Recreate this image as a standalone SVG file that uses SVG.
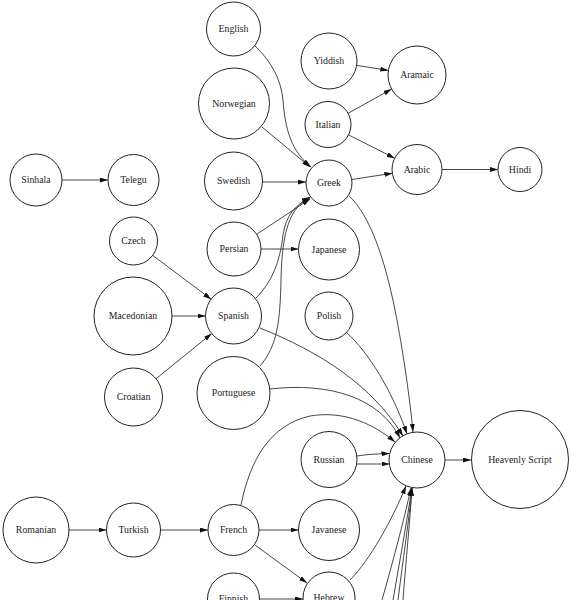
<svg xmlns="http://www.w3.org/2000/svg" width="571" height="600" viewBox="0 0 571 600">
<style>
.n ellipse{fill:none;stroke:#222;stroke-width:1}
.n text{font-family:"Liberation Serif","Times New Roman",serif;font-size:9.8px;fill:#222;text-anchor:middle}
.e path{fill:none;stroke:#333;stroke-width:0.9;marker-end:url(#ah)}
</style>
<defs>
<marker id="ah" viewBox="0 0 8 5" refX="8" refY="2.5" markerWidth="8" markerHeight="5" orient="auto" markerUnits="userSpaceOnUse"><path d="M0,0 L8,2.5 L0,5 z" fill="#111"/></marker>
</defs>
<rect width="571" height="600" fill="#fff"/>
<g id="edges" class="e">
<path d="M62,180 L108,180"/>
<path d="M255,46 C272,62 281,80 283,100 C285,130 292,152 311,167"/>
<path d="M262,127 L310,167"/>
<path d="M262.5,182 L306,182"/>
<path d="M257,234 L310,199"/>
<path d="M256,298 C272,282 280,262 283,235 C286,215 295,205 310,198"/>
<path d="M260,366 C278,345 280,320 281,280 C282,230 290,208 310,197"/>
<path d="M261,249 L298.5,249"/>
<path d="M152.7,255.4 L211.1,299.2"/>
<path d="M172,316 L205.5,316"/>
<path d="M156,378.8 L211.7,333.6"/>
<path d="M356.7,65.4 L388.3,70.4"/>
<path d="M348.1,113.3 L391.6,89.1"/>
<path d="M348.5,134.9 L394.7,158.2"/>
<path d="M351.7,179.5 L392.3,173.3"/>
<path d="M442,169.5 L498,169.5"/>
<path d="M349,196 C370,215 385,260 395,310 C403,350 410,400 413,432"/>
<path d="M347,333 C368,352 392,390 407,434"/>
<path d="M260,328 C320,352 372,385 403,436"/>
<path d="M270,389 C330,382 380,398 400,438"/>
<path d="M241,505 C250,460 270,425 310,416 C345,410 375,425 395,442"/>
<path d="M357,456 C370,454 378,454 389.5,453.5"/>
<path d="M357,464 L389.5,464"/>
<path d="M445,460 L471,460"/>
<path d="M69,530 L106.5,530"/>
<path d="M160.5,530 L208,530"/>
<path d="M259,530 L298.5,530"/>
<path d="M255,545 L307,583"/>
<path d="M259.5,599 L303,599"/>
<path d="M350,580 C370,560 392,520 406,486"/>
<path d="M382,600 C392,565 404,520 411,488"/>
<path d="M393,600 C400,560 407,520 412,488"/>
<path d="M398,600 C403,560 409,520 412,488"/>
<path d="M403,600 C406,560 410,520 412,488"/>
</g>
<g id="English" class="n"><ellipse cx="233.5" cy="29" rx="27" ry="27"/><text x="233.5" y="32.3">English</text></g>
<g id="Yiddish" class="n"><ellipse cx="329" cy="61" rx="28" ry="28"/><text x="329" y="64.3">Yiddish</text></g>
<g id="Aramaic" class="n"><ellipse cx="417" cy="75" rx="29" ry="29"/><text x="417" y="78.3">Aramaic</text></g>
<g id="Norwegian" class="n"><ellipse cx="234" cy="103.5" rx="35.5" ry="35.5"/><text x="234" y="106.8">Norwegian</text></g>
<g id="Italian" class="n"><ellipse cx="328" cy="124.5" rx="23" ry="23"/><text x="328" y="127.8">Italian</text></g>
<g id="Arabic" class="n"><ellipse cx="417" cy="169.5" rx="25" ry="25"/><text x="417" y="172.8">Arabic</text></g>
<g id="Hindi" class="n"><ellipse cx="520" cy="169.5" rx="22" ry="22"/><text x="520" y="172.8">Hindi</text></g>
<g id="Sinhala" class="n"><ellipse cx="36" cy="180" rx="26" ry="26"/><text x="36" y="183.3">Sinhala</text></g>
<g id="Telegu" class="n"><ellipse cx="133.5" cy="180" rx="25.5" ry="25.5"/><text x="133.5" y="183.3">Telegu</text></g>
<g id="Swedish" class="n"><ellipse cx="233.5" cy="181" rx="29" ry="29"/><text x="233.5" y="184.3">Swedish</text></g>
<g id="Greek" class="n"><ellipse cx="329" cy="183" rx="23" ry="23"/><text x="329" y="186.3">Greek</text></g>
<g id="Czech" class="n"><ellipse cx="133.5" cy="241" rx="24" ry="24"/><text x="133.5" y="244.3">Czech</text></g>
<g id="Persian" class="n"><ellipse cx="234" cy="249" rx="27" ry="27"/><text x="234" y="252.3">Persian</text></g>
<g id="Japanese" class="n"><ellipse cx="329" cy="249.5" rx="30.5" ry="30.5"/><text x="329" y="252.8">Japanese</text></g>
<g id="Macedonian" class="n"><ellipse cx="133" cy="316" rx="39" ry="39"/><text x="133" y="319.3">Macedonian</text></g>
<g id="Spanish" class="n"><ellipse cx="233.5" cy="316" rx="28" ry="28"/><text x="233.5" y="319.3">Spanish</text></g>
<g id="Polish" class="n"><ellipse cx="329" cy="316" rx="24" ry="24"/><text x="329" y="319.3">Polish</text></g>
<g id="Croatian" class="n"><ellipse cx="133.5" cy="397" rx="29" ry="29"/><text x="133.5" y="400.3">Croatian</text></g>
<g id="Portuguese" class="n"><ellipse cx="233.5" cy="393" rx="36.5" ry="36.5"/><text x="233.5" y="396.3">Portuguese</text></g>
<g id="Russian" class="n"><ellipse cx="329" cy="459.5" rx="28" ry="28"/><text x="329" y="462.8">Russian</text></g>
<g id="Chinese" class="n"><ellipse cx="417" cy="460" rx="28" ry="28"/><text x="417" y="463.3">Chinese</text></g>
<g id="HeavenlyScript" class="n"><ellipse cx="520" cy="459.5" rx="48.5" ry="49"/><text x="520" y="462.8">Heavenly Script</text></g>
<g id="Romanian" class="n"><ellipse cx="36" cy="530" rx="33" ry="33"/><text x="36" y="533.3">Romanian</text></g>
<g id="Turkish" class="n"><ellipse cx="133.5" cy="530" rx="27" ry="27"/><text x="133.5" y="533.3">Turkish</text></g>
<g id="French" class="n"><ellipse cx="233.5" cy="530" rx="25.5" ry="25.5"/><text x="233.5" y="533.3">French</text></g>
<g id="Javanese" class="n"><ellipse cx="329" cy="530" rx="30.5" ry="30.5"/><text x="329" y="533.3">Javanese</text></g>
<g id="Finnish" class="n"><ellipse cx="233.5" cy="599" rx="26" ry="26"/><text x="233.5" y="602.3">Finnish</text></g>
<g id="Hebrew" class="n"><ellipse cx="329" cy="598" rx="26" ry="26"/><text x="329" y="601.3">Hebrew</text></g>
</svg>
